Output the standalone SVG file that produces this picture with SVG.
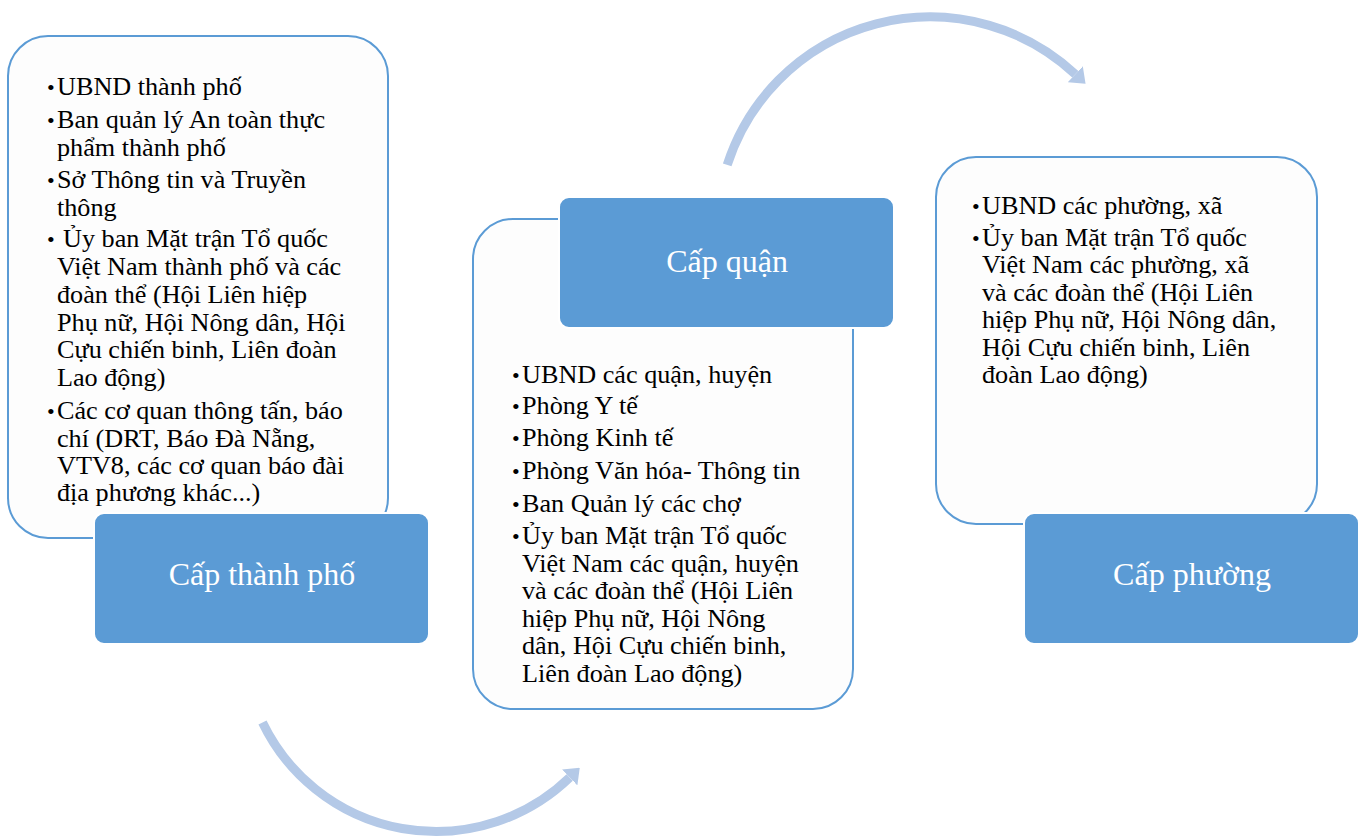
<svg xmlns="http://www.w3.org/2000/svg" width="1365" height="839" viewBox="0 0 1365 839">
<style>
.box{fill:#fdfdfd;stroke:#5b9bd5;stroke-width:2}
.lab{fill:#5b9bd5;stroke:#ffffff;stroke-width:2}
.t{font-family:"Liberation Serif","Times New Roman",serif;font-size:26.2px;fill:#000}
.b{font-size:22px}
.lt{font-family:"Liberation Serif","Times New Roman",serif;font-size:32px;fill:#ffffff;text-anchor:middle}
.arc{fill:none;stroke:#b4c9e7;stroke-width:9}
</style>
<defs>
<marker id="ah" markerUnits="userSpaceOnUse" viewBox="0 0 14 22" refX="0" refY="11" markerWidth="14" markerHeight="22" orient="auto">
<path d="M0,0 L14,11 L0,22 z" fill="#b4c9e7"/>
</marker>
</defs>
<g id="connectors">
<path class="arc" d="M727.2,164.9 A213,213 0 0 1 1075.3,74.2" marker-end="url(#ah)"/>
<path class="arc" d="M262.5,722.5 A192.5,192.5 0 0 0 569.7,777.5" marker-end="url(#ah)"/>
</g>
<g id="node-thanhpho">
<rect class="box" x="8" y="36" width="380" height="502" rx="40"/>
<g class="t">
<text class="b" x="47" y="95">•</text><text x="57" y="95">UBND thành phố</text>
<text class="b" x="47" y="127.5">•</text><text x="57" y="127.5">Ban quản lý An toàn thực</text>
<text x="57" y="156">phẩm thành phố</text>
<text class="b" x="47" y="187.5">•</text><text x="57" y="187.5">Sở Thông tin và Truyền</text>
<text x="57" y="215.5">thông</text>
<text class="b" x="47" y="247">•</text><text x="63" y="247">Ủy ban Mặt trận Tổ quốc</text>
<text x="57" y="275">Việt Nam thành phố và các</text>
<text x="57" y="303">đoàn thể (Hội Liên hiệp</text>
<text x="57" y="330.5">Phụ nữ, Hội Nông dân, Hội</text>
<text x="57" y="358">Cựu chiến binh, Liên đoàn</text>
<text x="57" y="385.5">Lao động)</text>
<text class="b" x="47" y="418.5">•</text><text x="57" y="418.5">Các cơ quan thông tấn, báo</text>
<text x="57" y="446.5">chí (DRT, Báo Đà Nẵng,</text>
<text x="57" y="473.5">VTV8, các cơ quan báo đài</text>
<text x="57" y="500.5">địa phương khác...)</text>
</g>
<rect class="lab" x="94" y="513" width="335" height="131" rx="10"/>
<text class="lt" x="262" y="585">Cấp thành phố</text>
</g>
<g id="node-quan">
<rect class="box" x="473" y="219" width="380" height="490" rx="40"/>
<rect class="lab" x="559" y="197" width="335" height="131" rx="10"/>
<text class="lt" x="727" y="272">Cấp quận</text>
<g class="t">
<text class="b" x="512" y="382.5">•</text><text x="522" y="382.5">UBND các quận, huyện</text>
<text class="b" x="512" y="414">•</text><text x="522" y="414">Phòng Y tế</text>
<text class="b" x="512" y="446">•</text><text x="522" y="446">Phòng Kinh tế</text>
<text class="b" x="512" y="479">•</text><text x="522" y="479">Phòng Văn hóa- Thông tin</text>
<text class="b" x="512" y="511.5">•</text><text x="522" y="511.5">Ban Quản lý các chợ</text>
<text class="b" x="512" y="544">•</text><text x="522" y="544">Ủy ban Mặt trận Tổ quốc</text>
<text x="522" y="571.5">Việt Nam các quận, huyện</text>
<text x="522" y="599">và các đoàn thể (Hội Liên</text>
<text x="522" y="626.5">hiệp Phụ nữ, Hội Nông</text>
<text x="522" y="654">dân, Hội Cựu chiến binh,</text>
<text x="522" y="681.5">Liên đoàn Lao động)</text>
</g>
</g>
<g id="node-phuong">
<rect class="box" x="936" y="157" width="381" height="367" rx="40"/>
<g class="t">
<text class="b" x="972" y="213.5">•</text><text x="982" y="213.5">UBND các phường, xã</text>
<text class="b" x="972" y="245.5">•</text><text x="982" y="245.5">Ủy ban Mặt trận Tổ quốc</text>
<text x="982" y="273">Việt Nam các phường, xã</text>
<text x="982" y="300.5">và các đoàn thể (Hội Liên</text>
<text x="982" y="328">hiệp Phụ nữ, Hội Nông dân,</text>
<text x="982" y="355.5">Hội Cựu chiến binh, Liên</text>
<text x="982" y="383">đoàn Lao động)</text>
</g>
<rect class="lab" x="1024" y="513" width="335" height="131" rx="10"/>
<text class="lt" x="1192" y="585">Cấp phường</text>
</g>
</svg>
